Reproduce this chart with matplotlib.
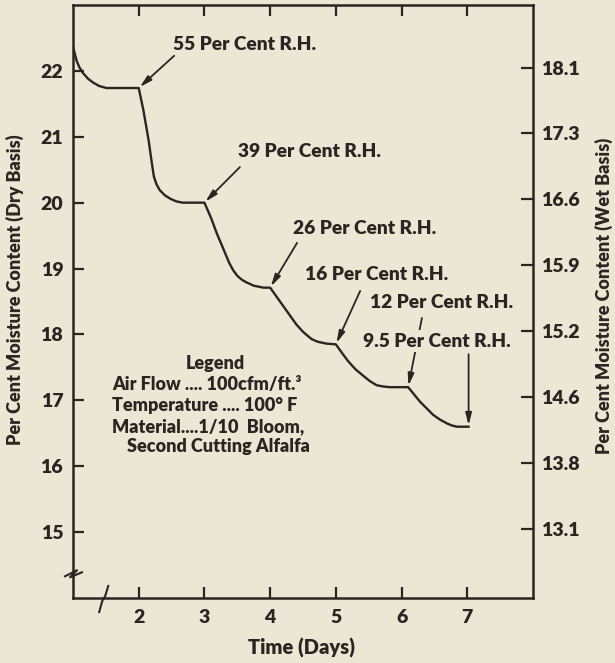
import matplotlib
matplotlib.use('Agg')
import matplotlib.pyplot as plt
from matplotlib import rcParams

# heavy geometric face, close to the old printed figures
rcParams['font.family'] = ['Lato', 'DejaVu Sans']
rcParams['font.weight'] = 'heavy'
rcParams['font.size'] = 13

PAPER = '#ebe7d4'
INK = '#2a2521'

# drying curve: moisture content (dry basis) against time in days
days = [1.0, 1.03, 1.06, 1.10, 1.15, 1.23, 1.31, 1.40, 1.51, 2.0,
        2.07, 2.15, 2.20, 2.23, 2.27, 2.32, 2.40, 2.48, 2.57, 2.67, 3.0,
        3.1, 3.19, 3.3, 3.38, 3.44, 3.5, 3.57, 3.64, 3.75, 3.9, 4.0,
        4.1, 4.2, 4.3, 4.4, 4.5, 4.57, 4.63, 4.72, 4.86, 5.0,
        5.1, 5.19, 5.3, 5.42, 5.52, 5.62, 5.72, 5.82, 6.1,
        6.19, 6.28, 6.38, 6.48, 6.58, 6.69, 6.76, 6.84, 7.02]
moisture = [22.37, 22.25, 22.14, 22.05, 21.97, 21.88, 21.82, 21.77, 21.74, 21.74,
            21.41, 20.95, 20.6, 20.40, 20.28, 20.19, 20.11, 20.06, 20.02, 20.0, 20.0,
            19.77, 19.53, 19.27, 19.08, 18.97, 18.89, 18.83, 18.79, 18.74, 18.71, 18.71,
            18.57, 18.43, 18.29, 18.15, 18.04, 17.98, 17.93, 17.89, 17.86, 17.85,
            17.71, 17.59, 17.47, 17.37, 17.29, 17.23, 17.21, 17.2, 17.2,
            17.09, 16.98, 16.88, 16.78, 16.71, 16.65, 16.62, 16.6, 16.6]

# relative humidity steps and the day each one ends on the curve
rh_values = ['55', '39', '26', '16', '12', '9.5']
rh_days = [2.0, 3.0, 4.0, 5.0, 6.1, 7.02]

x_ticks = [2, 3, 4, 5, 6, 7]
dry_ticks = [15, 16, 17, 18, 19, 20, 21, 22]
wet_labels = ['13.1', '13.8', '14.6', '15.2', '15.9', '16.6', '17.3', '18.1']

legend_lines = ['Air Flow .... 100cfm/ft.\u00b3',
                'Temperature .... 100\u00b0 F',
                'Material....1/10  Bloom,']
legend_last = 'Second Cutting Alfalfa'

# where each R.H. label sits and where its leader line starts
label_xy = [(2.52, 22.40), (3.51, 20.78), (4.35, 19.61),
            (4.53, 18.91), (5.52, 18.49), (5.41, 17.90)]
leader_xy = [(2.54, 22.23), (3.54, 20.54), (4.41, 19.39),
             (5.37, 18.66), (6.31, 18.25), (7.02, 17.70)]

fig = plt.figure(figsize=(6.15, 6.63), dpi=100, facecolor=PAPER)
ax = fig.add_axes([73 / 615, 1 - 598 / 663, 460 / 615, 593 / 663])
ax.set_facecolor(PAPER)
ax.set_xlim(1, 8)
ax.set_ylim(14, 23)

for side in ax.spines.values():
    side.set_linewidth(1.8)
    side.set_color(INK)

ax.plot(days, moisture, color=INK, lw=1.7, solid_joinstyle='round', zorder=3)

for i, (rh, d) in enumerate(zip(rh_values, rh_days)):
    idx = days.index(d)
    tip = (days[idx], moisture[idx])
    ax.annotate('', xy=tip, xytext=leader_xy[i], zorder=2,
                arrowprops=dict(arrowstyle='-|>,head_length=0.55,head_width=0.14',
                                color=INK, lw=1.3, shrinkA=0, shrinkB=1))
    box = None
    if rh == '9.5':
        # the 12 per cent leader runs behind this label
        box = dict(facecolor=PAPER, edgecolor='none', pad=1.5)
    ax.text(label_xy[i][0], label_xy[i][1], f'{rh} Per Cent R.H.',
            ha='left', va='center', color=INK, fontsize=13.8, bbox=box, zorder=5)

# legend block
ax.text(3.16, 17.56, 'Legend', ha='center', va='center', color=INK)
for k, line in enumerate(legend_lines):
    ax.text(1.59, 17.24 - 0.32 * k, line, ha='left', va='center', color=INK)
ax.text(1.82, 16.30, legend_last, ha='left', va='center', color=INK)

ax.set_xticks(x_ticks)
ax.set_xticklabels([str(v) for v in x_ticks])
ax.set_yticks(dry_ticks)
ax.set_yticklabels([str(v) for v in dry_ticks])
ax.tick_params(axis='both', direction='in', length=8, width=1.6, color=INK,
               labelcolor=INK, labelsize=14)
ax.tick_params(axis='x', top=True, pad=8)
ax.tick_params(axis='y', pad=7)

ax2 = ax.twinx()
ax2.set_ylim(ax.get_ylim())
ax2.set_yticks([v + 0.05 for v in dry_ticks])
ax2.set_yticklabels(wet_labels)
ax2.tick_params(axis='y', direction='in', length=9, width=1.6, color=INK,
                labelcolor=INK, labelsize=14, pad=6)
for side in ax2.spines.values():
    side.set_visible(False)

# axis break marks on the left spine and on the bottom spine
px, py = 1 / 65.7, 1 / 65.6
yb = 14.36
ax.plot([1 - 8 * px, 1 + 4 * px, 1 - 3 * px, 1 + 9 * px],
        [yb - 2 * py, yb + 4 * py, yb - 3 * py, yb + 2 * py],
        color=INK, lw=1.5, clip_on=False, zorder=6)
xb = 1.46
ax.plot([xb - 4 * px, xb - 1 * px, xb + 2 * px, xb + 5 * px],
        [14 - 14 * py, 14 - 3 * py, 14 + 2 * py, 14 + 12 * py],
        color=INK, lw=1.5, clip_on=False, zorder=6)

fig.text(302 / 615, 1 - 648 / 663, 'Time (Days)', ha='center', va='center',
         color=INK, fontsize=14.5)
fig.text(15 / 615, 1 - 290 / 663, 'Per Cent Moisture Content (Dry Basis)',
         rotation=90, ha='center', va='center', color=INK)
fig.text(604 / 615, 1 - 296 / 663, 'Per Cent Moisture Content (Wet Basis)',
         rotation=90, ha='center', va='center', color=INK)

fig.savefig('out.png', dpi=100, facecolor=PAPER)
